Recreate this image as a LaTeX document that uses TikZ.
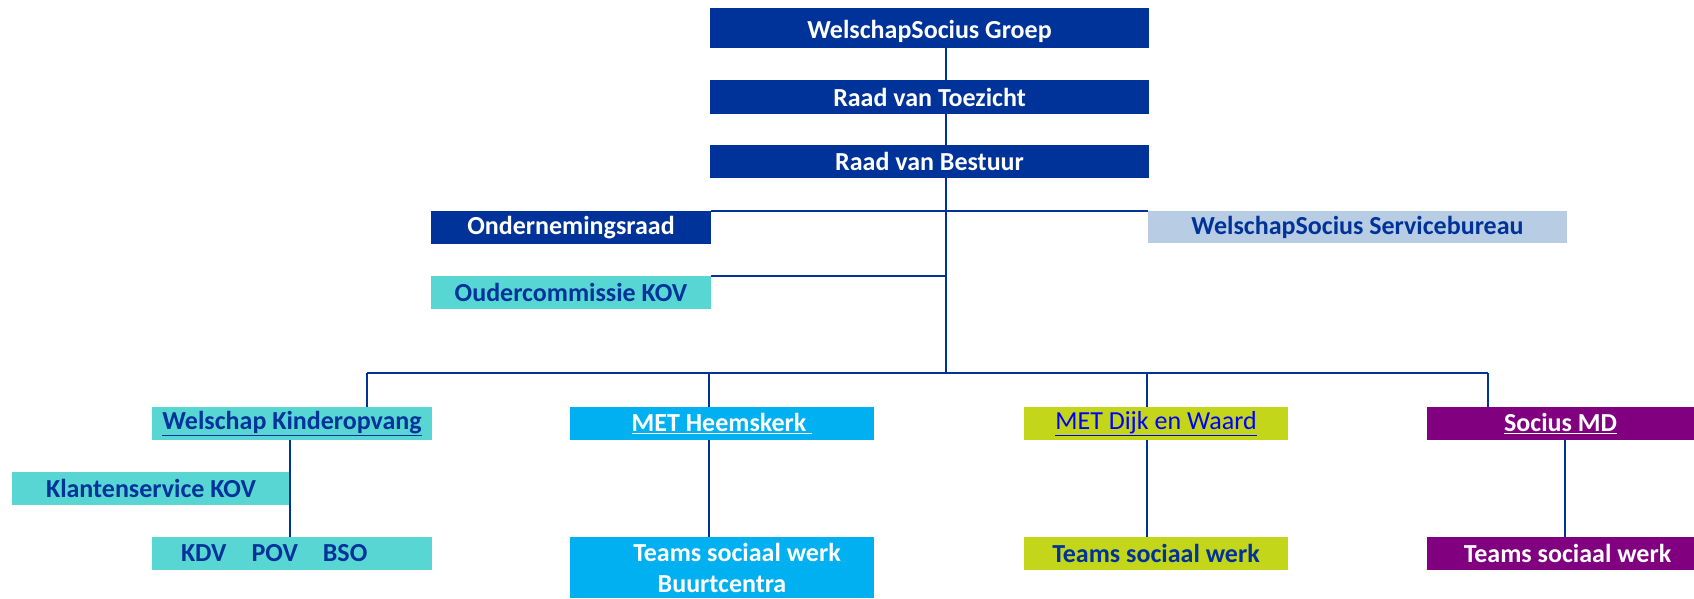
\documentclass[tikz,border=0pt]{standalone}
\usepackage{fontspec}
\setmainfont{Carlito}
\usepackage{tikz}
\usetikzlibrary
  {
    calc,
    positioning,              % place nodes relative to other nodes
  }

\definecolor{wsblue}{HTML}{003399}
\definecolor{wspale}{HTML}{B8CCE4}
\definecolor{wsturq}{HTML}{57D6D4}
\definecolor{wssky}{HTML}{00B0F0}
\definecolor{wslime}{HTML}{C4D61A}
\definecolor{wspurple}{HTML}{800080}
\definecolor{wslink}{HTML}{0000FF}

\begin{document}
\begin{tikzpicture}
  [x=1pt, y=-1pt,
   unit/.style={rectangle, inner sep=0pt, font=\fontsize{26}{31}\selectfont\bfseries,
                minimum height=33pt},
   topunit/.style={unit, fill=wsblue, text=white, minimum width=439pt},
   link/.style={draw=wsblue, line width=1.6pt},
  ]
    \useasboundingbox (0,0) rectangle (1694,598);

    % top of the organisation
    \node [topunit, minimum height=40pt, text depth=8pt, text height=28pt] (groep) at (929.5,28) {WelschapSocius Groep};
    \node [topunit, minimum height=34pt] (toezicht) at (929.5,97) {Raad van Toezicht};
    \node [topunit] (bestuur) at (929.5,161.5) {Raad van Bestuur};

    % advisory and support bodies
    \node [unit, fill=wsblue, text=white, minimum width=280pt] (or) at (571,227.5) {Ondernemingsraad};
    \node [unit, fill=wspale, text=wsblue, minimum width=419pt, minimum height=32pt]
      (servicebureau) at (1357.5,227) {WelschapSocius Servicebureau};
    \node [unit, fill=wsturq, text=wsblue, minimum width=280pt] (ouder) at (571,292.5) {Oudercommissie KOV};

    % the four organisations
    \node [unit, fill=wsturq, text=wsblue, minimum width=280pt] (kinderopvang) at (292,423.5)
      {\underline{Welschap Kinderopvang}};
    \node [unit, fill=wssky, text=white, minimum width=304pt] (heemskerk) at (722,423.5)
      {\underline{MET Heemskerk\ }};
    \node [unit, fill=wslime, text=wslink, minimum width=264pt, font=\fontsize{26}{31}\selectfont]
      (dijk) at (1156,423.5) {\underline{MET Dijk en Waard}};
    \node [unit, fill=wspurple, text=white, minimum width=267pt] (socius) at (1560.5,423.5)
      {\underline{Socius MD}};

    % teams under each organisation
    \node [unit, fill=wsturq, text=wsblue, minimum width=278pt] (klantenservice) at (151,488.5) {Klantenservice KOV};
    \node [unit, fill=wsturq, text=wsblue, text width=222pt, inner xsep=29pt, align=left]
      (kdv) at (292,553.5) {KDV\hspace{25pt}POV\hspace{25pt}BSO};
    \node [unit, fill=wssky, text=white, minimum width=304pt, minimum height=61pt, anchor=north,
           align=center, font=\fontsize{26}{31}\selectfont\bfseries]
      (buurtcentra) at (722,537) {\hspace{30pt}Teams sociaal werk\\Buurtcentra};
    \node [unit, fill=wslime, text=wsblue, minimum width=264pt] (teamsdijk) at (1156,553.5) {Teams sociaal werk};
    \node [unit, fill=wspurple, text=white, minimum width=267pt] (teamssocius) at (1560.5,553.5)
      {\hspace{14pt}Teams sociaal werk};

    % spine and bus
    \coordinate (spine) at (946,373);
    \coordinate (busA) at (367,373);
    \coordinate (busB) at (709,373);
    \coordinate (busC) at (1147,373);
    \coordinate (busD) at (1488,373);

    \draw [link] (groep.south -| spine) -- (toezicht.north -| spine);
    \draw [link] (toezicht.south -| spine) -- (bestuur.north -| spine);
    \draw [link] (bestuur.south -| spine) -- (spine);
    \draw [link] (or.north east) -- (servicebureau.north west);
    \draw [link] (ouder.north east) -- (ouder.north east -| spine);
    \draw [link] (busA) -- (busD);

    % drops to the organisations
    \draw [link] (busA) -- (kinderopvang.north -| busA);
    \draw [link] (busB) -- (heemskerk.north -| busB);
    \draw [link] (busC) -- (dijk.north -| busC);
    \draw [link] (busD) -- (socius.north -| busD);

    % down to the teams
    \draw [link] (kinderopvang.south -| klantenservice.east) -- (kdv.north -| klantenservice.east);
    \draw [link] (heemskerk.south -| busB) -- (buurtcentra.north -| busB);
    \draw [link] (dijk.south -| busC) -- (teamsdijk.north -| busC);
    \draw [link] ($(socius.south)+(4.5,0)$) -- ($(teamssocius.north)+(4.5,0)$);

  \end{tikzpicture}
\end{document}
